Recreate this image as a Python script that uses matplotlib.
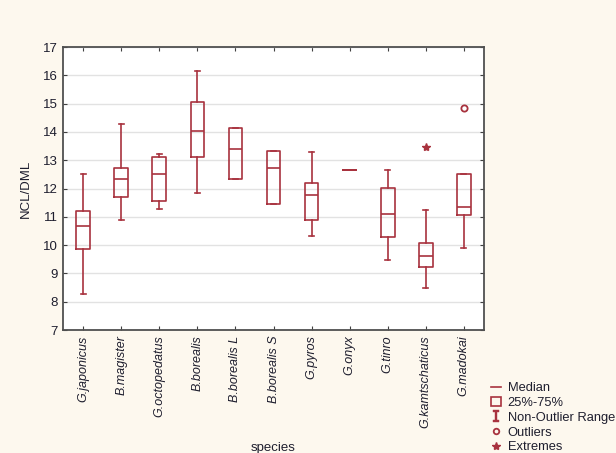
import matplotlib
matplotlib.use("Agg")
import matplotlib.pyplot as plt
from matplotlib.lines import Line2D
from matplotlib.patches import Rectangle

plt.rcParams['font.family'] = ['Liberation Sans', 'DejaVu Sans']

species = ["G.japonicus", "B.magister", "G.octopedatus", "B.borealis", "B.borealis L",
           "B.borealis S", "G.pyros", "G.onyx", "G.tinro", "G.kamtschaticus", "G.madokai"]
whisker_low = [8.27, 10.90, 11.28, 11.83, 12.32, 11.47, 10.31, 12.67, 9.46, 8.50, 9.90]
q1 = [9.87, 11.69, 11.55, 13.11, 12.32, 11.47, 10.90, 12.67, 10.28, 9.24, 11.07]
median = [10.68, 12.33, 12.51, 14.02, 13.40, 12.71, 11.78, 12.67, 11.09, 9.63, 11.33]
q3 = [11.21, 12.74, 13.11, 15.05, 14.15, 13.32, 12.21, 12.67, 12.01, 10.08, 12.53]
whisker_high = [12.52, 14.29, 13.21, 16.16, 14.15, 13.32, 13.29, 12.67, 12.67, 11.25, 12.53]
outlier_species = ["G.madokai"]
outlier_values = [14.83]
extreme_species = ["G.kamtschaticus"]
extreme_values = [13.46]

C = '#a8323e'
TXT = '#1e1e2e'

fig = plt.figure(figsize=(6.16, 4.53), dpi=100)
fig.patch.set_facecolor('#fdf8ee')
ax = fig.add_axes([0.1023, 0.2715, 0.6834, 0.6247])
ax.set_facecolor('white')

stats = []
for i, s in enumerate(species):
    stats.append(dict(label=s, whislo=whisker_low[i], q1=q1[i], med=median[i],
                      q3=q3[i], whishi=whisker_high[i], fliers=[]))
pos = list(range(len(species)))
ax.bxp(stats, positions=pos, widths=0.36, showfliers=False,
       boxprops=dict(color=C, lw=1.2),
       medianprops=dict(color=C, lw=1.2),
       whiskerprops=dict(color=C, lw=1.2),
       capprops=dict(color=C, lw=1.2),
       capwidths=0.14)

ax.plot([species.index(s) for s in outlier_species], outlier_values, 'o',
        mfc='none', mec=C, mew=1.3, ms=4.5, zorder=3)
ax.plot([species.index(s) for s in extreme_species], extreme_values, '*',
        color=C, ms=6, zorder=3)

ax.set_xlim(-0.53, 10.53)
ax.set_ylim(7, 17)
ax.set_yticks(range(7, 18))
ax.set_xticks(pos)
ax.set_xticklabels(species, rotation=90, fontstyle='italic', fontsize=9, color=TXT)
ax.tick_params(axis='y', labelsize=9.5, labelcolor=TXT)
ax.tick_params(direction='in', length=3, width=0.8, color='#404040',
               top=True, right=True, pad=4)
ax.yaxis.grid(True, color='#e2e2e2', lw=1)
ax.set_axisbelow(True)
for sp in ax.spines.values():
    sp.set_color('#505050')
    sp.set_linewidth(1.3)

ax.set_ylabel('NCL/DML', fontsize=9.5, color=TXT, labelpad=8)
ax.set_xlabel('species', fontsize=9.5, color=TXT, labelpad=10)

handles = [
    Line2D([], [], color=C, lw=1.2),
    Rectangle((0, 0), 1, 1, fc='none', ec=C, lw=1.2),
    Line2D([], [], ls='none', marker=r'$\mathtt{I}$', color=C, ms=8, mew=0.3),
    Line2D([], [], ls='none', marker='o', mfc='none', mec=C, mew=1.3, ms=4),
    Line2D([], [], ls='none', marker='*', color=C, ms=6),
]
labels = ['Median', '25%-75%', 'Non-Outlier Range', 'Outliers', 'Extremes']
leg = fig.legend(handles, labels, loc='upper left', bbox_to_anchor=(0.797, 0.156),
                 frameon=False, fontsize=9.3, handlelength=0.8, handletextpad=0.5,
                 labelspacing=0.21, borderpad=0, borderaxespad=0,
                 labelcolor=TXT)

fig.savefig('out.png', dpi=100, facecolor=fig.get_facecolor())
